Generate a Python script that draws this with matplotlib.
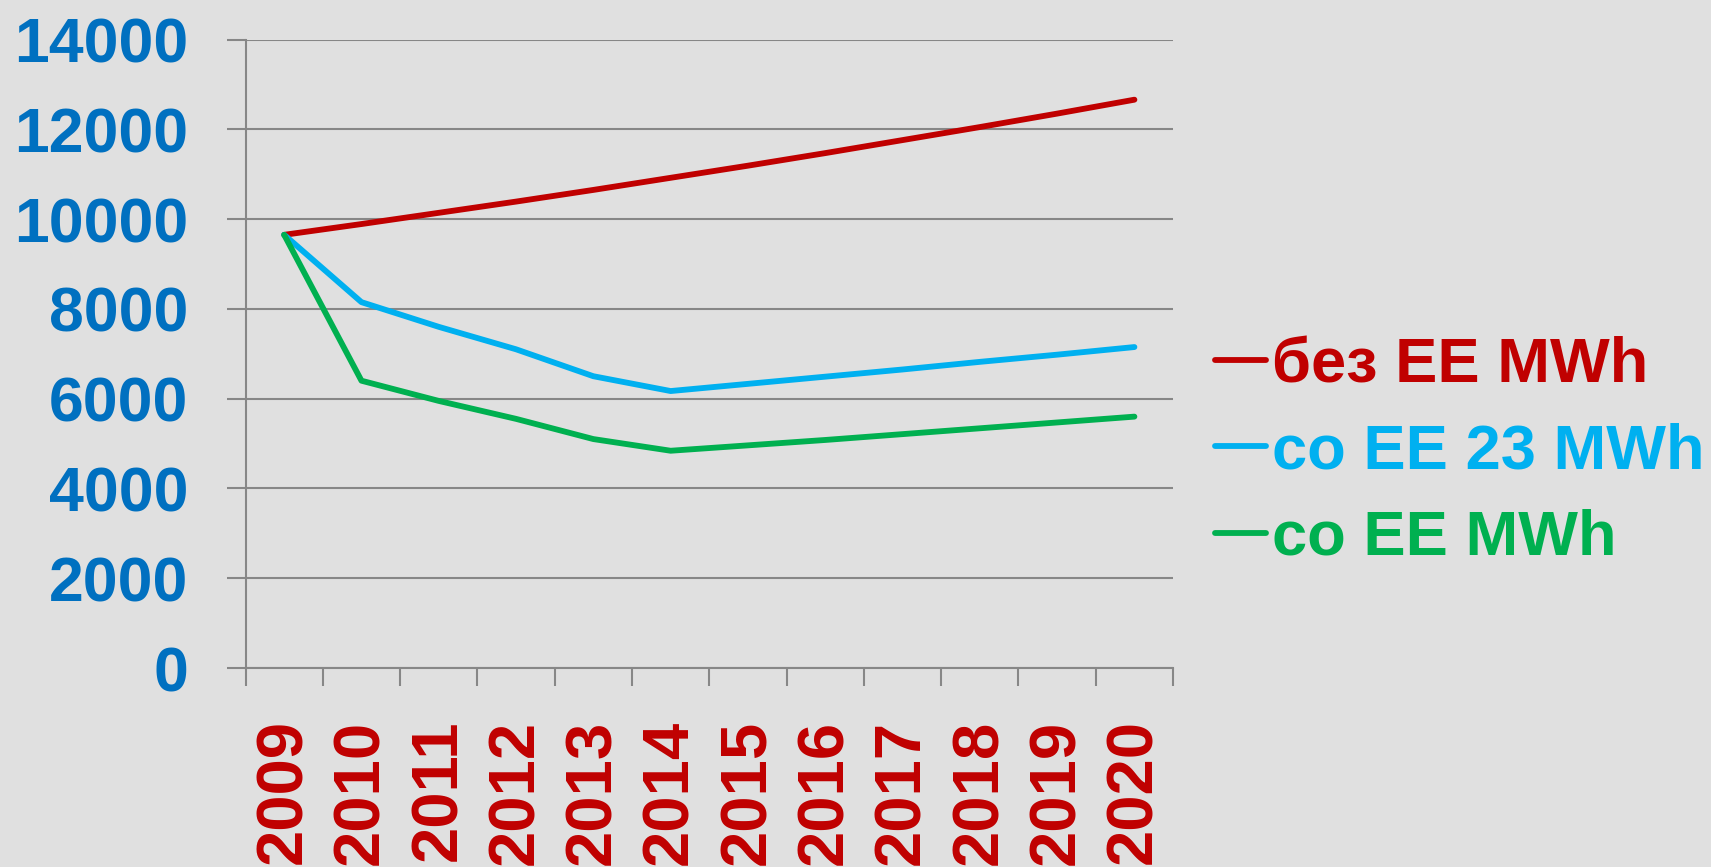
import matplotlib
matplotlib.use("Agg")
import matplotlib.pyplot as plt
from matplotlib.ticker import FixedLocator

years = ["2009", "2010", "2011", "2012", "2013", "2014", "2015", "2016", "2017", "2018", "2019", "2020"]
bez_ee = [9650, 9890, 10140, 10390, 10650, 10920, 11190, 11470, 11760, 12050, 12350, 12660]
so_ee_23 = [9650, 8150, 7600, 7100, 6500, 6170, 6330, 6490, 6650, 6820, 6980, 7150]
so_ee = [9650, 6400, 5950, 5550, 5100, 4840, 4960, 5080, 5210, 5340, 5470, 5600]
labels = ["без EE MWh", "со EE 23 MWh", "со EE MWh"]
colors = ["#C00000", "#00B0F0", "#00B050"]
y_ticks = [0, 2000, 4000, 6000, 8000, 10000, 12000, 14000]

plt.rcParams['font.family'] = ['Liberation Sans', 'DejaVu Sans']
plt.rcParams['font.weight'] = 'bold'

bg = "#E0E0E0"
grid_c = "#878787"
fig = plt.figure(figsize=(17.11, 8.67), dpi=100, facecolor=bg)
ax = fig.add_axes([0.1435, 0.2295, 0.5421, 0.7249])
ax.set_facecolor(bg)

x = list(range(len(years)))
lines = []
for vals, lab, c in zip([bez_ee, so_ee_23, so_ee], labels, colors):
    ln, = ax.plot(x, vals, color=c, lw=4.2, label=lab, solid_capstyle='round', solid_joinstyle='round')
    lines.append(ln)

ax.set_xlim(-0.5, len(years) - 0.5)
ax.set_ylim(0, 14000)
ax.set_yticks(y_ticks)
ax.set_yticklabels([str(v) for v in y_ticks])
ax.yaxis.grid(True, color=grid_c, lw=1.5)
ax.set_axisbelow(True)

ax.set_xticks(x)
ax.set_xticklabels(years, rotation=90)
ax.xaxis.set_minor_locator(FixedLocator([i - 0.5 for i in range(len(years) + 1)]))
ax.tick_params(axis='x', which='major', length=0, pad=37, labelsize=47, labelcolor="#C00000")
ax.tick_params(axis='x', which='minor', length=13, width=1.5, color=grid_c)
ax.tick_params(axis='y', which='major', length=14, width=1.5, color=grid_c, pad=27,
               labelsize=45, labelcolor="#0070C0")
for lab in ax.get_xticklabels() + ax.get_yticklabels():
    lab.set_fontweight('bold')

for s in ['top', 'right']:
    ax.spines[s].set_visible(False)
for s in ['left', 'bottom']:
    ax.spines[s].set_color(grid_c)
    ax.spines[s].set_linewidth(1.5)

leg = fig.legend(handles=lines, labels=labels, loc='center left',
                 bbox_to_anchor=(1215 / 1711, 1 - 452 / 867),
                 frameon=False, fontsize=45.5, handlelength=0.8, handletextpad=0.1,
                 labelspacing=0.43, borderpad=0, borderaxespad=0)
for t, c in zip(leg.get_texts(), colors):
    t.set_color(c)
    t.set_fontweight('bold')

fig.savefig("out.png", dpi=100, facecolor=bg)
